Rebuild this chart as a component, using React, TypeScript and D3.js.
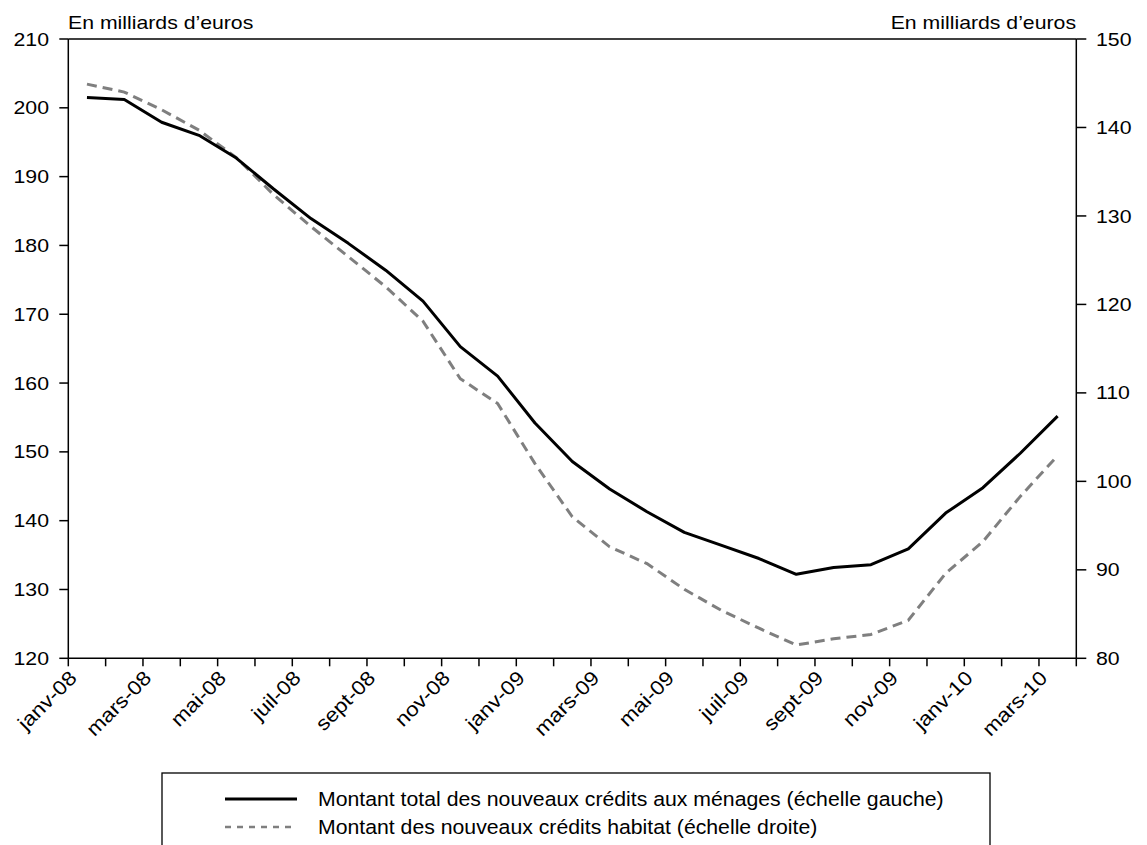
import React from "react";
import * as d3 from "d3";

const months = [
  "janv-08", "févr-08", "mars-08", "avr-08", "mai-08", "juin-08", "juil-08", "août-08", "sept-08", "oct-08", "nov-08", "déc-08",
  "janv-09", "févr-09", "mars-09", "avr-09", "mai-09", "juin-09", "juil-09", "août-09", "sept-09", "oct-09", "nov-09", "déc-09",
  "janv-10", "févr-10", "mars-10",
];

// Montant total des nouveaux crédits aux ménages (échelle gauche)
const totalCredits = [
  201.5, 201.2, 197.9, 196.0, 192.7, 188.2, 183.9, 180.3, 176.4, 171.9, 165.3, 161.0,
  154.2, 148.6, 144.6, 141.3, 138.3, 136.4, 134.5, 132.2, 133.2, 133.6, 135.9, 141.1,
  144.8, 149.8, 155.2,
];

// Montant des nouveaux crédits habitat (échelle droite)
const housingCredits = [
  144.9, 144.0, 142.0, 139.7, 136.6, 132.4, 128.8, 125.4, 122.0, 118.1, 111.6, 108.8,
  102.0, 96.0, 92.6, 90.7, 87.8, 85.4, 83.4, 81.5, 82.2, 82.7, 84.3, 89.6,
  93.2, 98.3, 102.9,
];

const leftTicks = [120, 130, 140, 150, 160, 170, 180, 190, 200, 210];
const rightTicks = [80, 90, 100, 110, 120, 130, 140, 150];

const unitLabel = "En milliards d\u2019euros";
const legendLabels = [
  "Montant total des nouveaux crédits aux ménages (échelle gauche)",
  "Montant des nouveaux crédits habitat (échelle droite)",
];

const W = 1147;
const H = 845;
const X0 = 68.3;
const X1 = 1076.3;
const YT = 39;
const YB = 658.3;
const FONT = "'Liberation Sans', Arial, Helvetica, sans-serif";

function T(props: { x: number; y: number; anchor?: string; size?: number; sx?: number; children: React.ReactNode }) {
  const { x, y, anchor = "start", size = 18, sx = 1.17, children } = props;
  return (
    <text
      transform={`translate(${x},${y}) scale(${sx},1)`}
      textAnchor={anchor}
      fontSize={size}
      fontFamily={FONT}
      fill="#000"
    >
      {children}
    </text>
  );
}

export default function App() {
  const x = d3.scaleBand<string>().domain(months).range([X0, X1]).paddingInner(0).paddingOuter(0);
  const bw = x.bandwidth();
  const cx = (m: string) => (x(m) as number) + bw / 2;
  const yL = d3.scaleLinear().domain([120, 210]).range([YB, YT]);
  const yR = d3.scaleLinear().domain([80, 150]).range([YB, YT]);

  const lineL = d3
    .line<number>()
    .x((_, i) => cx(months[i]))
    .y((d) => yL(d));
  const lineR = d3
    .line<number>()
    .x((_, i) => cx(months[i]))
    .y((d) => yR(d));

  const boundaries = months.map((m) => x(m) as number).concat([X1]);

  return (
    <svg width={W} height={H} style={{ position: "absolute", left: 0, top: 0, background: "#fff" }}>
      <rect x={0} y={0} width={W} height={H} fill="#fff" />
      {/* plot frame */}
      <line x1={X0} x2={X1} y1={YT} y2={YT} stroke="#000" strokeWidth={1.5} />
      <line x1={X0} x2={X1} y1={YB} y2={YB} stroke="#000" strokeWidth={1.5} />
      <line x1={X0} x2={X0} y1={YT} y2={YB} stroke="#000" strokeWidth={1.5} />
      <line x1={X1} x2={X1} y1={YT} y2={YB} stroke="#000" strokeWidth={1.5} />

      {/* left axis */}
      {leftTicks.map((t) => (
        <g key={"l" + t}>
          <line x1={X0 - 9} x2={X0} y1={yL(t)} y2={yL(t)} stroke="#000" strokeWidth={1.5} />
          <T x={49} y={yL(t) + 6.6} anchor="end" size={18.2} sx={1.17}>
            {t}
          </T>
        </g>
      ))}
      {/* right axis */}
      {rightTicks.map((t) => (
        <g key={"r" + t}>
          <line x1={X1} x2={X1 + 10} y1={yR(t)} y2={yR(t)} stroke="#000" strokeWidth={1.5} />
          <T x={1096} y={yR(t) + 6.6} size={18.2} sx={1.17}>
            {t}
          </T>
        </g>
      ))}

      {/* x axis ticks */}
      {boundaries.map((b, i) => (
        <line key={"xt" + i} x1={b} x2={b} y1={YB} y2={YB + 8} stroke="#000" strokeWidth={1.5} />
      ))}
      {months.map((m, i) =>
        i % 2 === 0 ? (
          <text
            key={"xl" + m}
            transform={`translate(${cx(m) - 9},${YB + 21}) rotate(-45) scale(1.12,1)`}
            textAnchor="end"
            fontSize={20}
            fontFamily={FONT}
            fill="#000"
          >
            {m}
          </text>
        ) : null
      )}

      {/* unit labels */}
      <T x={68} y={29.3} size={17.7} sx={1.2}>
        {unitLabel}
      </T>
      <T x={1076} y={29.3} size={17.7} sx={1.2} anchor="end">
        {unitLabel}
      </T>

      {/* series */}
      <path d={lineR(housingCredits) || ""} fill="none" stroke="#7f7f7f" strokeWidth={3} strokeDasharray="10 6" />
      <path d={lineL(totalCredits) || ""} fill="none" stroke="#000" strokeWidth={3} strokeLinejoin="round" />

      {/* legend */}
      <rect x={162} y={773} width={828} height={100} fill="none" stroke="#000" strokeWidth={1.3} />
      <line x1={225} x2={297} y1={799} y2={799} stroke="#000" strokeWidth={3} />
      <line x1={225} x2={297} y1={827} y2={827} stroke="#7f7f7f" strokeWidth={2.5} strokeDasharray="6 6" />
      <T x={318} y={806} size={19.5} sx={1.09}>
        {legendLabels[0]}
      </T>
      <T x={318} y={834} size={19.5} sx={1.09}>
        {legendLabels[1]}
      </T>
    </svg>
  );
}
